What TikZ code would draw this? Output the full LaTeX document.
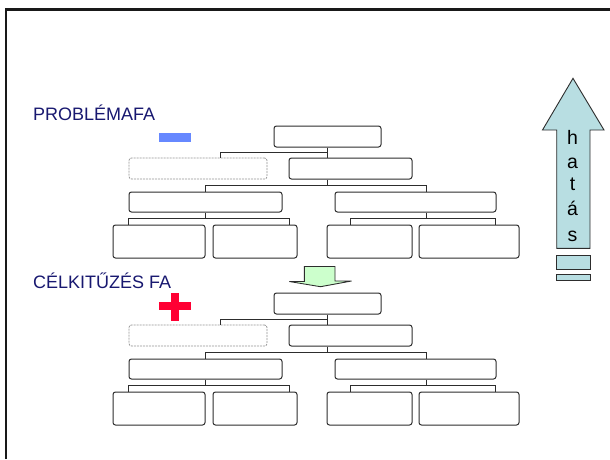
\documentclass[tikz,border=0pt]{standalone}
\usepackage{fontspec}
\setmainfont{Liberation Sans}
\usetikzlibrary{calc}

\definecolor{titleblue}{RGB}{24,24,112}
\definecolor{boxline}{RGB}{45,45,45}
\definecolor{dashline}{RGB}{150,150,150}
\definecolor{minusblue}{RGB}{102,136,255}
\definecolor{plusred}{RGB}{255,0,51}
\definecolor{arrowgreen}{RGB}{204,255,204}
\definecolor{arrowteal}{RGB}{184,222,226}
\definecolor{framegray}{RGB}{25,25,25}

\tikzset{
  box/.style n args={2}{draw=boxline, line width=1pt, rounded corners=2.5pt,
    fill=white, inner sep=0pt, minimum width=#1, minimum height=#2},
  ghostbox/.style n args={2}{draw=dashline, line width=0.8pt, dash pattern=on 2pt off 1pt,
    rounded corners=2.5pt, inner sep=0pt, minimum width=#1, minimum height=#2},
  conn/.style={draw=boxline, line width=1pt},
  heading/.style={anchor=base west, inner sep=0pt, text=titleblue, font=\fontsize{18}{20}\selectfont},
  vletter/.style={anchor=base, inner sep=0pt, font=\fontsize{19.5}{20}\selectfont},
  shapeline/.style={draw=boxline, line width=0.9pt}
}

% One tree: root, two second-level boxes (left one dashed), two branches of four leaves.
\newcommand{\treeblock}[1]{%
  \node[box={107pt}{21pt}]      (#1r) at (327.5,136.5) {};
  \node[ghostbox={138pt}{21pt}] (#1a) at (198,168.5) {};
  \node[box={123pt}{21pt}]      (#1b) at (350.5,168.5) {};
  \node[box={153pt}{20pt}]      (#1c) at (205.5,202) {};
  \node[box={161pt}{20pt}]      (#1d) at (415.5,202) {};
  \node[box={92pt}{33pt}]       (#1e) at (159,241.5) {};
  \node[box={84pt}{33pt}]       (#1f) at (255,241.5) {};
  \node[box={85pt}{33pt}]       (#1g) at (369.5,241.5) {};
  \node[box={100pt}{33pt}]      (#1h) at (469,241.5) {};
  % root to second level
  \draw[conn] (#1r.south) -- (#1r.south |- #1b.north);
  \draw[conn] ($(#1r.south)+(0,5)$) -| ([xshift=22pt]#1a.north);
  % right second-level box to third level
  \coordinate (#1k) at (327.5,185.5);
  \draw[conn] (#1r.south |- #1b.south) -- (#1k);
  \draw[conn] (#1c.north) |- (#1k) -| ([xshift=11pt]#1d.north);
  % third level to leaves
  \draw[conn] (#1c.south) -- ++(0,6.5);
  \draw[conn] ([xshift=-30.3pt]#1e.north) -- ++(0,-6.5) -| ([xshift=34.3pt]#1f.north);
  \draw[conn] ([xshift=11pt]#1d.south) -- ++(0,6.5);
  \draw[conn] ([xshift=-18.8pt]#1g.north) -- ++(0,-6.5) -| ([xshift=26.7pt]#1h.north);
}

\begin{document}
\begin{tikzpicture}[x=1pt, y=-1pt]
  \useasboundingbox (0,0) rectangle (610,459);
  \fill[white] (0,0) rectangle (610,459);

  % slide frame (top and left edges)
  \draw[framegray, line width=2.3pt] (6.3,459) -- (6.3,9.5) -- (610,9.5);

  % headings and signs
  \node[heading] (probtitle) at (33,120) {PROBLÉMAFA};
  \node[heading] (goaltitle) at (33,288.5) {CÉLKITŰZÉS FA};
  \fill[minusblue] (159,133) rectangle (191,142);
  \fill[plusred] (159,302.3) rectangle (190.7,310);
  \fill[plusred] (170.7,292.7) rectangle (179,321);

  % problem tree
  \treeblock{p}

  % objective tree
  \begin{scope}[yshift=-167pt]
    \treeblock{g}
  \end{scope}

  % transformation arrow between the trees
  \filldraw[fill=arrowgreen, shapeline]
    (304.3,266.5) -- (335,266.5) -- (335,281) -- (351.5,281) -- (320.5,286.7)
    -- (289.3,281.5) -- (304.3,281.5) -- cycle;

  % impact arrow
  \filldraw[fill=arrowteal, shapeline]
    (573,78.3) -- (604,130) -- (590,130) -- (590,248.3) -- (556.7,248.3)
    -- (556.7,130) -- (542.5,130) -- cycle;
  \filldraw[fill=arrowteal, shapeline] (556.7,255.7) rectangle (590,269);
  \filldraw[fill=arrowteal, shapeline] (556.7,274.7) rectangle (590,280.3);
  \node[vletter] (l1) at (572.5,144.5) {h};
  \node[vletter] (l2) at (572.5,168.5) {a};
  \node[vletter] (l3) at (572.5,190.5) {t};
  \node[vletter] (l4) at (572.5,215) {á};
  \node[vletter] (l5) at (572.5,241.5) {s};
\end{tikzpicture}
\end{document}
